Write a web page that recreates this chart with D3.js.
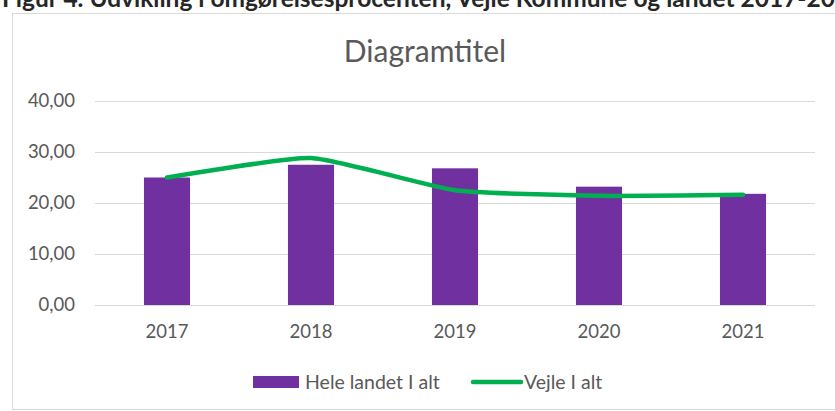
<!DOCTYPE html>
<html>
<head>
<meta charset="utf-8">
<script src="https://cdn.jsdelivr.net/npm/d3@7"></script>
<style>
  html, body { margin: 0; padding: 0; background: #fff; }
  svg { display: block; font-family: Lato, "Open Sans", sans-serif; }
</style>
</head>
<body>
<svg id="chart" width="835" height="411"></svg>
<script>
// data
const years = ["2017", "2018", "2019", "2020", "2021"];
const heleLandet = [25.0, 27.5, 26.8, 23.2, 21.8];
const vejle = [25.0, 28.8, 22.5, 21.4, 21.6];
const yTicks = [0, 10, 20, 30, 40];
const seriesNames = ["Hele landet I alt", "Vejle I alt"];

const width = 835, height = 411;
const margin = { top: 101, right: 20, bottom: 106, left: 95 };
const plotW = 720, plotH = 204;

const svg = d3.select("#chart");

svg.append("rect")
    .attr("width", width)
    .attr("height", height)
    .attr("fill", "#fff");

// header text of the document, cut by the top edge as in the source
svg.append("text")
    .attr("x", 2)
    .attr("y", 7)
    .attr("font-size", 24.5)
    .attr("font-weight", "bold")
    .attr("fill", "#262626")
    .text("Figur 4. Udvikling i omgørelsesprocenten, Vejle Kommune og landet 2017-2021");

// chart frame
svg.append("rect")
    .attr("x", 12.5)
    .attr("y", 13.5)
    .attr("width", 840)
    .attr("height", 396)
    .attr("fill", "#fff")
    .attr("stroke", "#d9d9d9");

svg.append("text")
    .attr("x", 425)
    .attr("y", 62)
    .attr("text-anchor", "middle")
    .attr("font-size", 30)
    .attr("fill", "#595959")
    .text("Diagramtitel");

const g = svg.append("g")
    .attr("transform", "translate(" + margin.left + "," + margin.top + ")");

const x = d3.scaleBand().domain(years).range([0, plotW]).paddingInner(0.68).paddingOuter(0.34);
const xc = d3.scaleBand().domain(years).range([0, plotW]);
const y = d3.scaleLinear().domain([0, 40]).range([plotH, 0]);

// gridlines
g.selectAll(".grid")
    .data(yTicks)
    .join("line")
    .attr("class", "grid")
    .attr("x1", 0)
    .attr("x2", plotW)
    .attr("y1", d => Math.round(y(d)) + 0.5)
    .attr("y2", d => Math.round(y(d)) + 0.5)
    .attr("stroke", "#d9d9d9")
    .attr("stroke-width", 1);

// y axis labels
const fmt = d => d3.format(".2f")(d).replace(".", ",");
const yAxis = g.append("g")
    .call(d3.axisLeft(y).tickValues(yTicks).tickFormat(fmt).tickSize(0).tickPadding(20));
yAxis.select(".domain").remove();
yAxis.selectAll("text")
    .attr("font-family", "Lato, 'Open Sans', sans-serif")
    .attr("font-size", 18.5)
    .attr("fill", "#595959");

// x axis labels
const xAxis = g.append("g")
    .attr("transform", "translate(0," + plotH + ")")
    .call(d3.axisBottom(xc).tickSize(0).tickPadding(20));
xAxis.select(".domain").remove();
xAxis.selectAll("text")
    .attr("font-family", "Lato, 'Open Sans', sans-serif")
    .attr("font-size", 18.5)
    .attr("fill", "#595959");

// bars
g.selectAll(".bar")
    .data(years)
    .join("rect")
    .attr("class", "bar")
    .attr("x", d => x(d))
    .attr("width", x.bandwidth())
    .attr("y", (d, i) => y(heleLandet[i]))
    .attr("height", (d, i) => plotH - y(heleLandet[i]))
    .attr("fill", "#7030a0");

// line, smoothed like the source
const line = d3.line()
    .x((d, i) => xc(years[i]) + xc.bandwidth() / 2)
    .y(d => y(d))
    .curve(d3.curveCardinal.tension(0.5));

g.append("path")
    .datum(vejle)
    .attr("d", line)
    .attr("fill", "none")
    .attr("stroke", "#00b050")
    .attr("stroke-width", 4.5)
    .attr("stroke-linecap", "round");

// legend
const legend = svg.append("g").attr("transform", "translate(0,382)");
legend.append("rect")
    .attr("x", 253)
    .attr("y", -6)
    .attr("width", 46)
    .attr("height", 12)
    .attr("fill", "#7030a0");
legend.append("text")
    .attr("x", 305)
    .attr("y", 6.5)
    .attr("font-size", 19.5)
    .attr("fill", "#595959")
    .text(seriesNames[0]);
legend.append("line")
    .attr("x1", 473)
    .attr("x2", 521)
    .attr("y1", 0)
    .attr("y2", 0)
    .attr("stroke", "#00b050")
    .attr("stroke-width", 4.5)
    .attr("stroke-linecap", "round");
legend.append("text")
    .attr("x", 524)
    .attr("y", 6.5)
    .attr("font-size", 19.5)
    .attr("fill", "#595959")
    .text(seriesNames[1]);
</script>
</body>
</html>
